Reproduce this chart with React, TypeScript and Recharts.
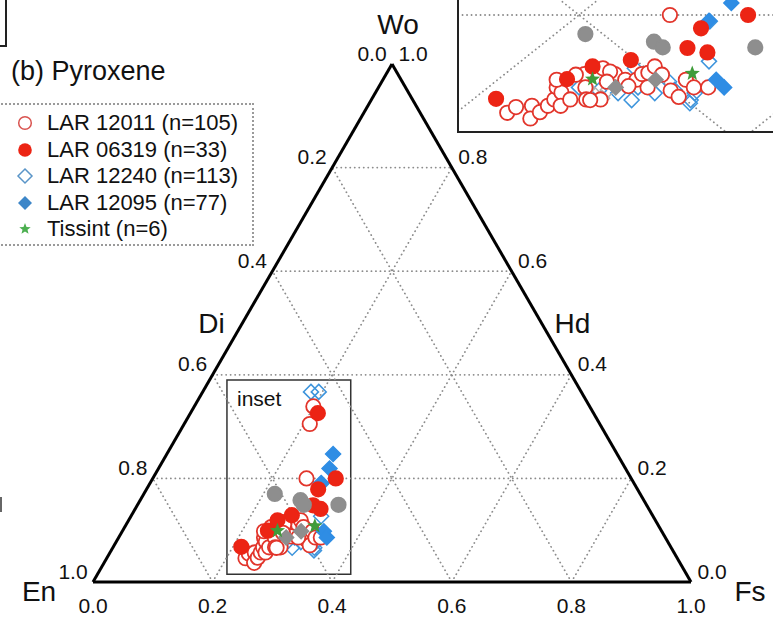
import React from "react";
import {
  ScatterChart,
  Scatter,
  XAxis,
  YAxis,
  ReferenceLine,
  ReferenceArea,
} from "recharts";

const FONT = '"Liberation Sans", Arial, Helvetica, sans-serif';

// ternary axes (fractions); En = 1 - Wo - Fs
const tickValues = [0, 0.2, 0.4, 0.6, 0.8, 1.0];
const gridValues = [0.2, 0.4, 0.6, 0.8];

// LAR 12011 (open red circles)
const lar12011Wo = [0.046, 0.055, 0.057, 0.037, 0.047, 0.057, 0.067, 0.086, 0.078, 0.057, 0.067, 0.098, 0.107, 0.086, 0.067, 0.067, 0.116, 0.107, 0.098, 0.098, 0.107, 0.109, 0.119, 0.106, 0.081, 0.071, 0.098, 0.086, 0.086, 0.2, 0.088, 0.086, 0.106, 0.111, 0.095, 0.066, 0.339, 0.305];
const lar12011Fs = [0.232, 0.233, 0.242, 0.251, 0.252, 0.252, 0.251, 0.243, 0.25, 0.26, 0.261, 0.237, 0.25, 0.261, 0.271, 0.28, 0.257, 0.269, 0.28, 0.287, 0.286, 0.289, 0.288, 0.299, 0.317, 0.327, 0.318, 0.329, 0.338, 0.257, 0.287, 0.3, 0.245, 0.264, 0.27, 0.274, 0.199, 0.21];

// LAR 06319 (filled red circles)
const lar06319Wo = [0.068, 0.099, 0.119, 0.129, 0.148, 0.141, 0.179, 0.2, 0.326];
const lar06319Fs = [0.214, 0.243, 0.249, 0.268, 0.294, 0.31, 0.287, 0.306, 0.213];

// LAR 12240 (open blue diamonds)
const lar12240Wo = [0.127, 0.116, 0.086, 0.098, 0.077, 0.066, 0.086, 0.077, 0.095, 0.082, 0.066, 0.077, 0.081, 0.061, 0.19, 0.367, 0.367];
const lar12240Fs = [0.318, 0.277, 0.257, 0.269, 0.286, 0.3, 0.294, 0.309, 0.309, 0.319, 0.337, 0.334, 0.272, 0.339, 0.287, 0.181, 0.194];

// LAR 12095 (filled blue diamonds)
const lar12095Wo = [0.219, 0.191, 0.098, 0.086, 0.247];
const lar12095Fs = [0.286, 0.286, 0.337, 0.348, 0.278];

// Tissint (green stars)
const tissintWo = [0.099, 0.108];
const tissintFs = [0.259, 0.317];

// grey reference points (not in legend)
const greyCircleWo = [0.17, 0.158, 0.149, 0.149];
const greyCircleFs = [0.219, 0.268, 0.278, 0.336];
const greyDiamondWo = [0.086, 0.098];
const greyDiamondFs = [0.28, 0.299];
const greyOpenWo = [0.085, 0.074, 0.082, 0.069];
const greyOpenFs = [0.263, 0.273, 0.277, 0.28];

const seriesNames = [
  "LAR 12011 (n=105)",
  "LAR 06319 (n=33)",
  "LAR 12240 (n=113)",
  "LAR 12095 (n=77)",
  "Tissint (n=6)",
];

// zoom window drawn in the main triangle
const insetX = [0.224, 0.431];
const insetY = [0.015, 0.39];

type Pt = { x: number; y: number };
const toXY = (wo: number[], fs: number[]): Pt[] =>
  wo.map((w, i) => ({ x: fs[i] + w / 2, y: w }));

const RED = "#ec2414";
const RED_OPEN = "#e2352b";
const BLUE = "#2f8de4";
const BLUE_OPEN = "#3d94dc";
const GREY = "#8e8e8e";
const GREEN = "#3f9c3a";

const circle = (fill: string, stroke: string) => (p: any) =>
  <circle cx={p.cx} cy={p.cy} r={7.2} fill={fill} stroke={stroke} strokeWidth={1.8} />;

const diamond = (fill: string, stroke: string) => (p: any) => {
  const s = 7.5;
  return (
    <path
      d={`M${p.cx},${p.cy - s}L${p.cx + s},${p.cy}L${p.cx},${p.cy + s}L${p.cx - s},${p.cy}Z`}
      fill={fill}
      stroke={stroke}
      strokeWidth={1.5}
    />
  );
};

function starPath(cx: number, cy: number, R: number, r: number) {
  let d = "";
  for (let i = 0; i < 10; i++) {
    const rad = i % 2 === 0 ? R : r;
    const a = -Math.PI / 2 + (i * Math.PI) / 5;
    d += `${i === 0 ? "M" : "L"}${cx + rad * Math.cos(a)},${cy + rad * Math.sin(a)}`;
  }
  return d + "Z";
}

const star = (p: any) => <path d={starPath(p.cx, p.cy, 8, 3.4)} fill={GREEN} />;

function gridSegments() {
  const segs: Pt[][] = [];
  gridValues.forEach((v) => {
    segs.push([{ x: v / 2, y: v }, { x: 1 - v / 2, y: v }]); // Wo = v
    segs.push([{ x: v, y: 0 }, { x: v + (1 - v) / 2, y: 1 - v }]); // Fs = v
    segs.push([{ x: 1 - v, y: 0 }, { x: (1 - v) / 2, y: 1 - v }]); // En = v
  });
  return segs;
}

const triangle: Pt[][] = [
  [{ x: 0, y: 0 }, { x: 1, y: 0 }],
  [{ x: 0, y: 0 }, { x: 0.5, y: 1 }],
  [{ x: 1, y: 0 }, { x: 0.5, y: 1 }],
];

const labelData = [
  ...tickValues.map((t) => ({ x: t, y: 0, text: t.toFixed(1), dx: 0, dy: 23, size: 21 })),
  ...tickValues.map((v) => ({ x: (1 - v) / 2, y: 1 - v, text: v.toFixed(1), dx: -20, dy: -11, size: 21 })),
  ...tickValues.map((w) => ({ x: 1 - w / 2, y: w, text: w.toFixed(1), dx: 21, dy: -11, size: 21 })),
  { x: 0.5, y: 1, text: "Wo", dx: 6, dy: -40, size: 28 },
  { x: 0.25, y: 0.5, text: "Di", dx: -31, dy: 0, size: 28 },
  { x: 0.75, y: 0.5, text: "Hd", dx: 31, dy: 0, size: 28 },
  { x: 0, y: 0, text: "En", dx: -54, dy: 9, size: 28 },
  { x: 1, y: 0, text: "Fs", dx: 59, dy: 9, size: 28 },
];

const labelShape = (p: any) => (
  <text
    x={p.cx + p.payload.dx}
    y={p.cy + p.payload.dy}
    textAnchor="middle"
    dominantBaseline="central"
    fontFamily={FONT}
    fontSize={p.payload.size}
    fill="#111"
  >
    {p.payload.text}
  </text>
);

function Markers() {
  return [
    <Scatter key="b0" data={toXY(lar12240Wo, lar12240Fs)} shape={diamond("none", BLUE_OPEN)} isAnimationActive={false} />,
    <Scatter key="g0" data={toXY(greyOpenWo, greyOpenFs)} shape={diamond("none", "#b0b0b0")} isAnimationActive={false} />,
    <Scatter key="r0" data={toXY(lar12011Wo, lar12011Fs)} shape={circle("#fff", RED_OPEN)} isAnimationActive={false} />,
    <Scatter key="g1" data={toXY(greyDiamondWo, greyDiamondFs)} shape={diamond(GREY, GREY)} isAnimationActive={false} />,
    <Scatter key="b1" data={toXY(lar12095Wo, lar12095Fs)} shape={diamond(BLUE, BLUE)} isAnimationActive={false} />,
    <Scatter key="r1" data={toXY(lar06319Wo, lar06319Fs)} shape={circle(RED, RED)} isAnimationActive={false} />,
    <Scatter key="g2" data={toXY(greyCircleWo, greyCircleFs)} shape={circle(GREY, GREY)} isAnimationActive={false} />,
    <Scatter key="s" data={toXY(tissintWo, tissintFs)} shape={star} isAnimationActive={false} />,
  ];
}

const dotted = {
  stroke: "#8c8c8c",
  strokeWidth: 1.8,
  strokeDasharray: "0.1 4.4",
  strokeLinecap: "round" as const,
};

function LegendMarker({ i }: { i: number }) {
  const c = 10;
  if (i === 0) return <circle cx={c} cy={c} r={6.3} fill="#fff" stroke="#d9534f" strokeWidth={1.5} />;
  if (i === 1) return <circle cx={c} cy={c} r={6.8} fill={RED} />;
  if (i === 2) return <path d={`M${c},${c - 7}L${c + 7},${c}L${c},${c + 7}L${c - 7},${c}Z`} fill="#fff" stroke="#5a95c8" strokeWidth={1.5} />;
  if (i === 3) return <path d={`M${c},${c - 7}L${c + 7},${c}L${c},${c + 7}L${c - 7},${c}Z`} fill="#3d86c8" />;
  return <path d={starPath(c, c, 6, 2.6)} fill="#4caf50" />;
}

export default function App() {
  const segs = gridSegments();
  return (
    <div
      style={{
        position: "absolute",
        left: 0,
        top: 0,
        width: 773,
        height: 618,
        overflow: "hidden",
        background: "#fff",
        fontFamily: FONT,
      }}
    >
      <ScatterChart width={773} height={618} margin={{ top: 0, right: 0, bottom: 0, left: 0 }}>
        <XAxis type="number" dataKey="x" domain={[-93 / 598, 680 / 598]} hide allowDataOverflow />
        <YAxis type="number" dataKey="y" domain={[-36 / 518, 582 / 518]} hide allowDataOverflow />
        {segs.map((s, i) => (
          <ReferenceLine key={`g${i}`} segment={s} {...dotted} ifOverflow="visible" />
        ))}
        {triangle.map((s, i) => (
          <ReferenceLine key={`t${i}`} segment={s} stroke="#000" strokeWidth={3} ifOverflow="visible" />
        ))}
        <ReferenceArea
          x1={insetX[0]}
          x2={insetX[1]}
          y1={insetY[0]}
          y2={insetY[1]}
          fill="none"
          fillOpacity={0}
          stroke="#333"
          strokeWidth={1.5}
          ifOverflow="visible"
        />
        {Markers()}
        <Scatter data={labelData} shape={labelShape} isAnimationActive={false} />
      </ScatterChart>

      {/* top-right zoomed inset */}
      <div style={{ position: "absolute", left: 459, top: 0, width: 314, height: 132, overflow: "hidden", background: "#fff" }}>
        <ScatterChart width={314} height={132} margin={{ top: 0, right: 0, bottom: 0, left: 0 }}>
          <XAxis type="number" dataKey="x" domain={[(459 - 100.5) / 1595, (773 - 100.5) / 1595]} hide allowDataOverflow />
          <YAxis type="number" dataKey="y" domain={[(142 - 132) / 635, 142 / 635]} hide allowDataOverflow />
          {segs.map((s, i) => (
            <ReferenceLine key={`ig${i}`} segment={s} {...dotted} ifOverflow="hidden" />
          ))}
          {Markers()}
        </ScatterChart>
      </div>
      <div style={{ position: "absolute", left: 457, top: 0, width: 2, height: 133, background: "#222" }} />
      <div style={{ position: "absolute", left: 457, top: 131, width: 320, height: 2, background: "#222" }} />

      {/* fragment of neighbouring panel */}
      <div style={{ position: "absolute", left: -20, top: -20, width: 23, height: 63, border: "2px solid #222" }} />
      <div style={{ position: "absolute", left: 0, top: 497, width: 2, height: 15, background: "#666" }} />

      <div style={{ position: "absolute", left: 11, top: 55, fontSize: 27, color: "#111", lineHeight: "32px" }}>
        (b) Pyroxene
      </div>
      <div style={{ position: "absolute", left: 237, top: 386, fontSize: 21, color: "#111", lineHeight: "26px" }}>
        inset
      </div>

      {/* legend */}
      <div
        style={{
          position: "absolute",
          left: -10,
          top: 103,
          width: 260,
          height: 139,
          border: "2px dotted #9a9a9a",
        }}
      >
        {seriesNames.map((name, i) => (
          <div
            key={name}
            style={{ position: "absolute", left: 20, top: 5 + i * 26.5, height: 26, display: "flex", alignItems: "center" }}
          >
            <svg width={20} height={20} style={{ marginLeft: 3 }}>
              <LegendMarker i={i} />
            </svg>
            <span style={{ marginLeft: 12, fontSize: 22, color: "#111", whiteSpace: "nowrap" }}>{name}</span>
          </div>
        ))}
      </div>
    </div>
  );
}
